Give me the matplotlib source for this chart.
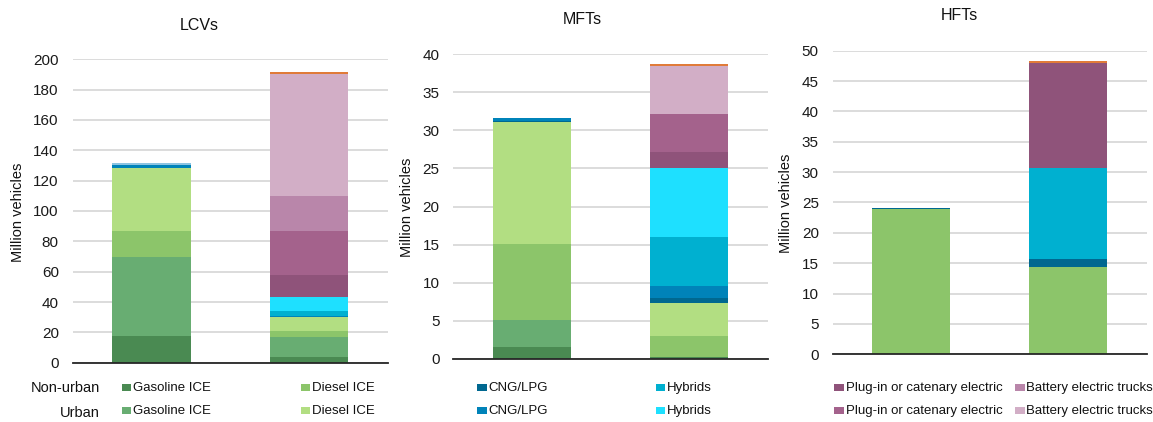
import matplotlib
matplotlib.use("Agg")
import matplotlib.pyplot as plt
from matplotlib.patches import Rectangle
import numpy as np

plt.rcParams['font.family'] = ['Liberation Sans', 'DejaVu Sans']

W, H = 1153, 422

# ---------------- data (million vehicles) ----------------
panels = ['LCVs', 'MFTs', 'HFTs']
categories = ['Bar 1', 'Bar 2']

# each series: values for [bar1, bar2] per panel
nu_gasoline = {'LCVs': [17.8, 4.0],  'MFTs': [1.6, 0.2],   'HFTs': [0.0, 0.0]}
u_gasoline  = {'LCVs': [51.7, 13.1], 'MFTs': [3.5, 0.0],   'HFTs': [0.0, 0.0]}
nu_diesel   = {'LCVs': [17.5, 4.0],  'MFTs': [10.0, 2.8],  'HFTs': [23.9, 14.4]}
u_diesel    = {'LCVs': [41.3, 8.8],  'MFTs': [16.05, 4.3], 'HFTs': [0.0, 0.0]}
nu_cng      = {'LCVs': [0.2, 0.3],   'MFTs': [0.15, 0.7],  'HFTs': [0.15, 1.3]}
u_cng       = {'LCVs': [1.8, 0.6],   'MFTs': [0.33, 1.6],  'HFTs': [0.0, 0.0]}
nu_hybrid   = {'LCVs': [0.0, 3.5],   'MFTs': [0.0, 6.4],   'HFTs': [0.0, 15.05]}
u_hybrid    = {'LCVs': [0.0, 9.0],   'MFTs': [0.0, 9.05],  'HFTs': [0.0, 0.0]}
nu_plugin   = {'LCVs': [0.0, 14.5],  'MFTs': [0.0, 2.15],  'HFTs': [0.0, 17.25]}
u_plugin    = {'LCVs': [0.0, 29.2],  'MFTs': [0.0, 5.0],   'HFTs': [0.0, 0.0]}
nu_bev      = {'LCVs': [0.0, 23.1],  'MFTs': [0.0, 0.0],   'HFTs': [0.0, 0.0]}
u_bev       = {'LCVs': [0.0, 80.4],  'MFTs': [0.0, 6.3],   'HFTs': [0.0, 0.0]}
other_a     = {'LCVs': [1.3, 0.0],   'MFTs': [0.0, 0.0],   'HFTs': [0.0, 0.0]}
other_b     = {'LCVs': [0.0, 1.3],   'MFTs': [0.0, 0.25],  'HFTs': [0.0, 0.3]}

y_max = {'LCVs': 200, 'MFTs': 40, 'HFTs': 50}
y_step = {'LCVs': 20, 'MFTs': 5, 'HFTs': 5}

legend_types = ['Gasoline ICE', 'Diesel ICE', 'CNG/LPG', 'Hybrids',
                'Plug-in or catenary electric', 'Battery electric trucks']
row_labels = ['Non-urban', 'Urban']

# ---------------- styles ----------------
stack = [
    (nu_gasoline, '#4a8a52'),
    (u_gasoline,  '#68ad72'),
    (nu_diesel,   '#8cc56a'),
    (u_diesel,    '#b2de82'),
    (nu_cng,      '#006890'),
    (u_cng,       '#0083b9'),
    (nu_hybrid,   '#00b0d0'),
    (u_hybrid,    '#1ee0ff'),
    (nu_plugin,   '#8f537a'),
    (u_plugin,    '#a4628c'),
    (nu_bev,      '#b986aa'),
    (u_bev,       '#d2aec6'),
    (other_a,     '#8cc4e2'),
    (other_b,     '#e07b39'),
]
nu_colors = ['#4a8a52', '#8cc56a', '#006890', '#00b0d0', '#8f537a', '#b986aa']
u_colors = ['#68ad72', '#b2de82', '#0083b9', '#1ee0ff', '#a4628c', '#d2aec6']

# axes boxes in pixels: left, right, y(0), y(top)
boxes = {
    'LCVs': (72.7, 387.7, 362.7, 59.3),
    'MFTs': (453.3, 767.7, 358.7, 54.3),
    'HFTs': (832.7, 1146.7, 354.3, 50.7),
}
titles_pos = {'LCVs': (199.5, 25), 'MFTs': (582.7, 20), 'HFTs': (959, 16)}
ylabel_pos = {'LCVs': (18, 212), 'MFTs': (407, 207), 'HFTs': (786, 203)}

fig = plt.figure(figsize=(W / 100, H / 100), dpi=100)

x = np.arange(len(categories))
for p in panels:
    l, r, y0, y1 = boxes[p]
    ax = fig.add_axes([l / W, 1 - y0 / H, (r - l) / W, (y0 - y1) / H])
    bottom = np.zeros(len(categories))
    for series, col in stack:
        vals = np.array(series[p], dtype=float)
        ax.bar(x, vals, 0.5, bottom=bottom, color=col, linewidth=0, zorder=3)
        bottom += vals
    ax.set_xlim(-0.5, 1.5)
    ax.set_ylim(0, y_max[p])
    ax.set_yticks(np.arange(0, y_max[p] + 1, y_step[p]))
    ax.set_xticks([])
    ax.yaxis.grid(True, color='#d9d9d9', linewidth=1.3, zorder=0)
    ax.set_axisbelow(True)
    for s in ['left', 'right', 'top']:
        ax.spines[s].set_visible(False)
    ax.spines['bottom'].set_color('#262626')
    ax.spines['bottom'].set_linewidth(1.3)
    ax.spines['bottom'].set_zorder(4)
    ax.tick_params(axis='y', length=0, labelsize=11, labelcolor='#1a1a1a', pad=10)
    tx, ty = titles_pos[p]
    fig.text(tx / W, 1 - ty / H, p, ha='center', va='center', fontsize=11.5, color='#111111')
    lx, ly = ylabel_pos[p]
    fig.text(lx / W, 1 - ly / H, 'Million vehicles', rotation=90, ha='center',
             va='center', fontsize=10.5, color='#111111')

# ---------------- legend ----------------
marker_x = [121.7, 300.7, 477, 655.5, 834.5, 1015]
row_y = [387.7, 410.7]
row_colors = [nu_colors, u_colors]
row_label_y = [388, 413]
for ri, lab in enumerate(row_labels):
    fig.text(100 / W, 1 - row_label_y[ri] / H, lab, ha='right', va='center',
             fontsize=10.5, color='#111111')
    for ci, name in enumerate(legend_types):
        mx = marker_x[ci]
        my = row_y[ri]
        fig.patches.append(Rectangle((mx / W, 1 - (my + 3.5) / H), 9.5 / W, 7.5 / H,
                                     transform=fig.transFigure, facecolor=row_colors[ri][ci],
                                     edgecolor='none'))
        fig.text((mx + 11.5) / W, 1 - my / H, name, ha='left', va='center',
                 fontsize=9.5, color='#111111')

fig.savefig('out.png', dpi=100)
